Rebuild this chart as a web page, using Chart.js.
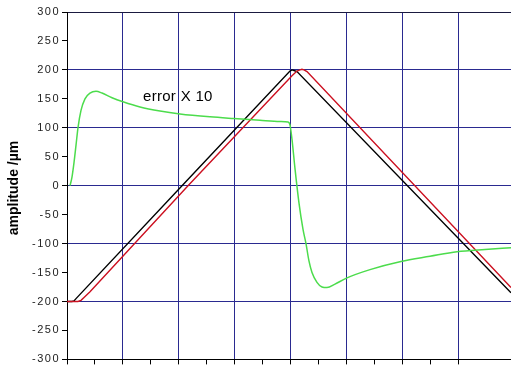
<!DOCTYPE html>
<html>
<head>
<meta charset="utf-8">
<script src="https://cdn.jsdelivr.net/npm/chart.js@4"></script>
<style>
    body { margin: 0; overflow: hidden; background: #fff; }
</style>
</head>
<body>
<canvas id="myChart" width="511" height="368"></canvas>
<script>
// x in grid units (one vertical grid cell = 1), y in µm
const blackX = [0, 0.089, 0.125, 0.161, 2.054, 3.982, 4.018, 4.054, 4.107, 7.929];
const blackY = [-200, -200, -199, -195, 0, 198, 200, 199, 197, -185];

const redX = [0, 0.196, 0.25, 0.304, 0.411, 2.161, 4.018, 4.107, 4.161, 4.196, 4.232, 4.286, 7.929];
const redY = [-200, -200, -198, -193, -183, 0, 190, 198, 200, 201, 200, 197, -176];

const greenX = [0.054, 0.089, 0.125, 0.161, 0.196, 0.25, 0.321, 0.411, 0.518, 0.625, 0.804, 1.0,
    1.304, 1.661, 2.018, 2.554, 2.982, 3.446, 3.804, 3.946, 3.982, 4.018, 4.071, 4.143, 4.214,
    4.268, 4.321, 4.375, 4.464, 4.554, 4.643, 4.786, 4.982, 5.411, 5.964, 6.482, 6.964, 7.464, 7.929];
const greenY = [0, 15, 40, 70, 100, 130, 150, 160, 163, 160, 152, 145,
    136, 129, 124, 119, 116, 113, 111, 110, 105, 80, 30, -30, -75,
    -100, -130, -150, -167, -175, -176, -170, -160, -145, -131, -122, -114, -110, -107];

const yTicks = [-300, -250, -200, -150, -100, -50, 0, 50, 100, 150, 200, 250, 300];
const yTitle = 'amplitude /µm';
const noteText = 'error X 10';

const toPoints = (xs, ys) => xs.map((x, i) => ({ x: x, y: ys[i] }));

const gridBlue = '#2a2a90';

const textPlugin = {
    id: 'texts',
    beforeDraw(chart) {
        chart.ctx.letterSpacing = '1.5px';
    },
    afterDraw(chart) {
        const ctx = chart.ctx;
        ctx.save();
        ctx.letterSpacing = '0px';
        ctx.fillStyle = '#000';
        ctx.font = 'bold 14px "Liberation Sans", Arial, sans-serif';
        ctx.textAlign = 'center';
        ctx.textBaseline = 'middle';
        ctx.translate(14, 188);
        ctx.rotate(-Math.PI / 2);
        ctx.fillText(yTitle, 0, 0);
        ctx.restore();

        ctx.save();
        ctx.letterSpacing = '0.3px';
        ctx.fillStyle = '#000';
        ctx.font = '15px "Liberation Sans", Arial, sans-serif';
        ctx.textAlign = 'left';
        ctx.textBaseline = 'alphabetic';
        ctx.fillText(noteText, 143, 101);
        ctx.restore();
    }
};

const ctx = document.getElementById('myChart').getContext('2d');
let chart = new Chart(ctx, {
    type: 'scatter',
    data: {
        datasets: [{
            data: toPoints(greenX, greenY),
            borderColor: '#4cdc4c',
            borderWidth: 1.5,
            showLine: true,
            pointRadius: 0,
            cubicInterpolationMode: 'monotone'
        }, {
            data: toPoints(redX, redY),
            borderColor: '#cc1020',
            borderWidth: 1.4,
            showLine: true,
            pointRadius: 0,
            tension: 0
        }, {
            data: toPoints(blackX, blackY),
            borderColor: '#000',
            borderWidth: 1.4,
            showLine: true,
            pointRadius: 0,
            tension: 0
        }]
    },
    options: {
        responsive: false,
        animation: false,
        layout: { padding: { top: 12, left: 0, right: 0, bottom: 0 } },
        plugins: {
            legend: { display: false },
            tooltip: { enabled: false }
        },
        scales: {
            x: {
                type: 'linear',
                min: 0,
                max: 7.929,
                ticks: { display: false, stepSize: 0.5 },
                grid: {
                    color: c => (c.tick.value > 0 && c.tick.value % 1 === 0) ? gridBlue : 'transparent',
                    lineWidth: 1,
                    tickColor: '#000',
                    tickLength: 5
                },
                border: { color: '#000', width: 1 },
                afterFit: scale => { scale.height = 8; }
            },
            y: {
                min: -300,
                max: 300,
                afterBuildTicks: scale => { scale.ticks = yTicks.map(v => ({ value: v })); },
                ticks: {
                    color: '#222',
                    padding: 2,
                    font: { family: '"Liberation Sans", Arial, sans-serif', size: 11 }
                },
                grid: {
                    color: c => c.tick.value === 300 ? '#1a1a40' : (c.tick.value % 100 === 0 && c.tick.value > -300 ? gridBlue : 'transparent'),
                    lineWidth: 1,
                    tickColor: '#000',
                    tickLength: 5
                },
                border: { color: '#000', width: 1 },
                afterFit: scale => { scale.width = 67; }
            }
        }
    },
    plugins: [textPlugin]
});
</script>
</body>
</html>
